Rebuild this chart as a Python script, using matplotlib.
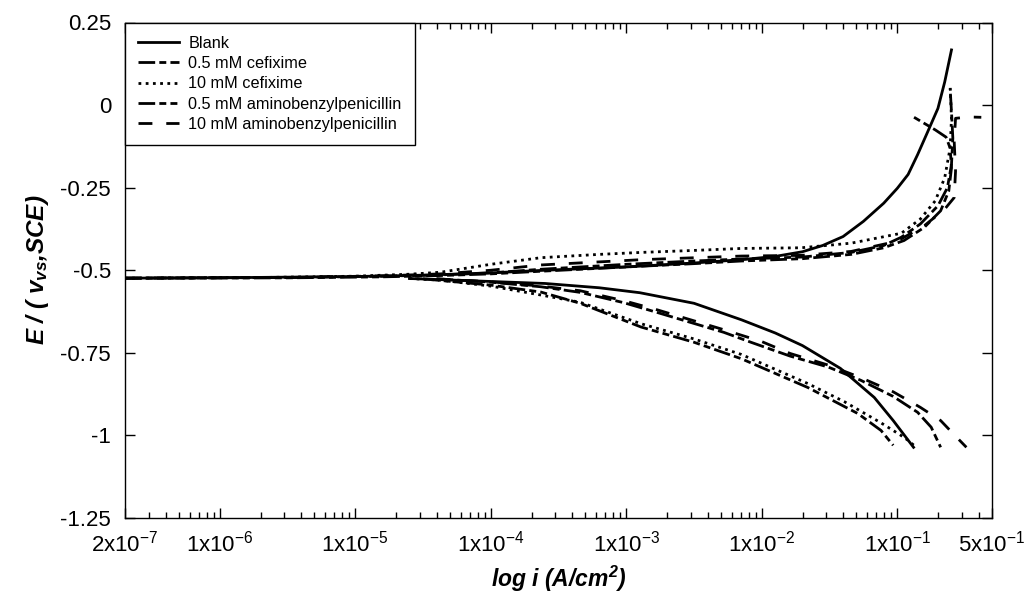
import numpy as np
import matplotlib
matplotlib.use("Agg")
import matplotlib.pyplot as plt
from matplotlib.ticker import FixedLocator, FixedFormatter, LogLocator, NullFormatter

plt.rcParams['font.family'] = ['Liberation Sans', 'DejaVu Sans']
plt.rcParams['mathtext.default'] = 'regular'
plt.rcParams['axes.unicode_minus'] = False

# data: log10(i / A cm^-2) and E / V vs SCE
# Blank
blank_an_logi = [-6.70, -5.80, -5.00, -4.50, -4.00, -3.60, -3.00, -2.50, -2.15, -1.90, -1.70,
                 -1.55, -1.40, -1.25, -1.10, -1.00, -0.92, -0.85, -0.78, -0.70, -0.65, -0.60]
blank_an_E = [-0.524, -0.522, -0.519, -0.515, -0.508, -0.500, -0.490, -0.478, -0.468, -0.458, -0.444,
              -0.425, -0.398, -0.352, -0.297, -0.252, -0.210, -0.150, -0.085, -0.010, 0.070, 0.167]
blank_ca_logi = [-4.60, -4.20, -3.60, -3.20, -2.90, -2.50, -2.15, -1.90, -1.70, -1.42, -1.17, -1.03, -0.88]
blank_ca_E = [-0.525, -0.531, -0.540, -0.553, -0.568, -0.600, -0.650, -0.690, -0.728, -0.797, -0.885, -0.955, -1.036]

# 0.5 mM cefixime
cef05_an_logi = [-6.70, -5.50, -4.80, -4.37, -4.00, -3.63, -3.00, -2.50, -2.15, -1.70, -1.34,
                 -1.10, -0.97, -0.83, -0.70, -0.63, -0.60, -0.59, -0.60, -0.61]
cef05_an_E = [-0.524, -0.522, -0.518, -0.514, -0.508, -0.497, -0.482, -0.472, -0.466, -0.460, -0.446,
              -0.425, -0.400, -0.360, -0.305, -0.250, -0.180, -0.100, -0.020, 0.050]
cef05_ca_logi = [-4.40, -4.00, -3.63, -3.34, -3.02, -2.77, -2.28, -2.08, -1.79, -1.51, -1.27,
                 -1.03, -0.85, -0.75, -0.68]
cef05_ca_E = [-0.526, -0.536, -0.550, -0.567, -0.598, -0.628, -0.688, -0.718, -0.760, -0.793, -0.833,
              -0.882, -0.930, -0.975, -1.036]

# 10 mM cefixime
cef10_an_logi = [-6.70, -5.70, -5.00, -4.60, -4.37, -4.00, -3.63, -3.20, -2.89, -2.50, -2.15,
                 -1.71, -1.34, -0.97, -0.83, -0.72, -0.65, -0.61, -0.60, -0.61]
cef10_an_E = [-0.524, -0.522, -0.518, -0.512, -0.506, -0.482, -0.462, -0.452, -0.446, -0.440, -0.434,
              -0.432, -0.418, -0.388, -0.345, -0.290, -0.220, -0.130, -0.040, 0.060]
cef10_ca_logi = [-4.60, -4.37, -4.00, -3.63, -3.34, -2.89, -2.50, -2.15, -1.66, -1.39, -1.12,
                 -0.98, -0.92, -0.86]
cef10_ca_E = [-0.525, -0.530, -0.548, -0.575, -0.597, -0.662, -0.708, -0.755, -0.843, -0.898, -0.962,
              -0.998, -1.015, -1.036]

# 0.5 mM aminobenzylpenicillin
abp05_an_logi = [-6.70, -5.50, -4.80, -4.37, -4.00, -3.63, -3.00, -2.50, -2.15, -1.70, -1.34,
                 -1.10, -0.95, -0.80, -0.68, -0.62, -0.60, -0.61, -0.64, -0.72, -0.88]
abp05_an_E = [-0.524, -0.523, -0.520, -0.516, -0.511, -0.503, -0.490, -0.480, -0.472, -0.465, -0.452,
              -0.432, -0.410, -0.370, -0.320, -0.260, -0.190, -0.130, -0.097, -0.075, -0.036]
abp05_ca_logi = [-4.50, -4.00, -3.63, -3.34, -2.89, -2.50, -2.15, -1.66, -1.29, -1.12, -1.03]
abp05_ca_E = [-0.526, -0.545, -0.566, -0.600, -0.672, -0.718, -0.768, -0.855, -0.934, -0.985, -1.030]

# 10 mM aminobenzylpenicillin
abp10_an_logi = [-6.70, -5.50, -4.80, -4.37, -4.00, -3.63, -2.89, -2.15, -1.71, -1.34, -1.00,
                 -0.80, -0.65, -0.58, -0.57, -0.58, -0.57, -0.47, -0.38]
abp10_an_E = [-0.524, -0.522, -0.517, -0.511, -0.500, -0.484, -0.468, -0.457, -0.455, -0.443, -0.412,
              -0.365, -0.315, -0.280, -0.200, -0.110, -0.040, -0.036, -0.037]
abp10_ca_logi = [-4.40, -4.00, -3.63, -3.34, -3.02, -2.77, -2.28, -2.00, -1.79, -1.51, -1.27,
                 -1.03, -0.83, -0.68, -0.58, -0.49]
abp10_ca_E = [-0.526, -0.535, -0.548, -0.562, -0.592, -0.620, -0.680, -0.716, -0.752, -0.787, -0.825,
              -0.868, -0.915, -0.955, -0.998, -1.036]

labels = ['Blank', '0.5 mM cefixime', '10 mM cefixime',
          '0.5 mM aminobenzylpenicillin', '10 mM aminobenzylpenicillin']

x_ticks = [2e-7, 1e-6, 1e-5, 1e-4, 1e-3, 1e-2, 1e-1, 5e-1]
x_ticklabels = ['2x10$^{-7}$', '1x10$^{-6}$', '1x10$^{-5}$', '1x10$^{-4}$',
                '1x10$^{-3}$', '1x10$^{-2}$', '1x10$^{-1}$', '5x10$^{-1}$']
y_ticks = [0.25, 0, -0.25, -0.5, -0.75, -1, -1.25]
y_ticklabels = ['0.25', '0', '-0.25', '-0.5', '-0.75', '-1', '-1.25']

curves = [
    (blank_an_logi, blank_an_E, blank_ca_logi, blank_ca_E, None),
    (cef05_an_logi, cef05_an_E, cef05_ca_logi, cef05_ca_E, (6, 1.5, 2.5, 1.5)),
    (cef10_an_logi, cef10_an_E, cef10_ca_logi, cef10_ca_E, (1.0, 1.6)),
    (abp05_an_logi, abp05_an_E, abp05_ca_logi, abp05_ca_E, (6, 1.5, 2.5, 1.5, 2.5, 1.5)),
    (abp10_an_logi, abp10_an_E, abp10_ca_logi, abp10_ca_E, (5, 5)),
]

fig = plt.figure(figsize=(10.29, 5.94), dpi=100)
ax = fig.add_axes([125 / 1029, 1 - 518 / 594, 867 / 1029, 495.5 / 594])

handles = []
for (al, ae, cl, ce, dash), lab in zip(curves, labels):
    kw = dict(color='black', lw=2)
    if dash is not None:
        kw['dashes'] = dash
    h, = ax.plot(10 ** np.array(al), ae, label=lab, **kw)
    ax.plot(10 ** np.array(cl), ce, **kw)
    handles.append(h)

ax.set_xscale('log')
ax.set_xlim(2e-7, 5e-1)
ax.set_ylim(-1.25, 0.25)

ax.xaxis.set_major_locator(FixedLocator(x_ticks))
ax.xaxis.set_major_formatter(FixedFormatter(x_ticklabels))
ax.xaxis.set_minor_locator(LogLocator(base=10, subs=np.arange(2, 10), numticks=30))
ax.xaxis.set_minor_formatter(NullFormatter())
ax.yaxis.set_major_locator(FixedLocator(y_ticks))
ax.yaxis.set_major_formatter(FixedFormatter(y_ticklabels))

ax.tick_params(which='both', direction='in', top=True, right=True, width=1)
ax.tick_params(which='major', length=7)
ax.tick_params(which='minor', length=4)
ax.tick_params(axis='x', labelsize=16, pad=9)
ax.tick_params(axis='y', labelsize=16, pad=10)
for s in ax.spines.values():
    s.set_linewidth(1)

ax.set_xlabel('log i (A/cm$^{2}$)', fontsize=16.5, fontweight='bold', style='italic', labelpad=5)
ax.set_ylabel('E / ( v$_{vs}$,SCE)', fontsize=17.5, fontweight='bold', style='italic', labelpad=7)

leg = ax.legend(handles=handles, loc='upper left', bbox_to_anchor=(0, 1), borderaxespad=0,
                fontsize=11.7, handlelength=2.5, labelspacing=0.33, handletextpad=0.6,
                fancybox=False, framealpha=1, edgecolor='black', borderpad=0.8)
leg.get_frame().set_linewidth(1)

fig.savefig('out.png', dpi=100)
